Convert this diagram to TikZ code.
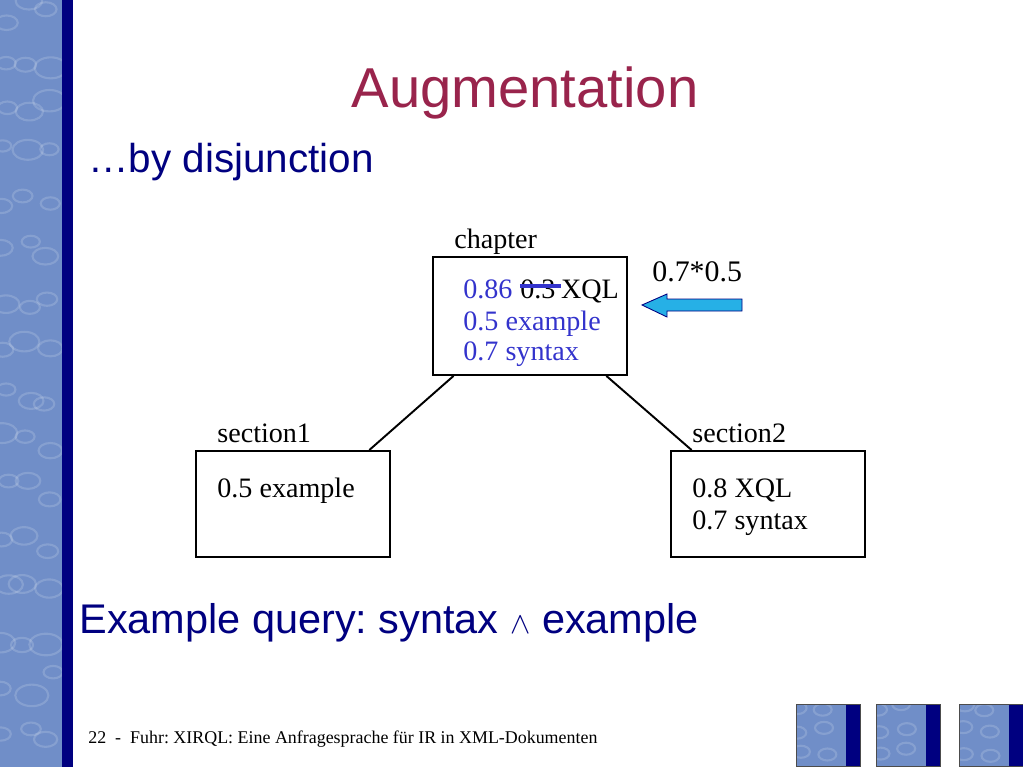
\documentclass[tikz,border=0pt]{standalone}
\usepackage{fontspec}
\setmainfont{Liberation Sans}
\newfontfamily\timesfont{Liberation Serif}
\usepackage{xcolor}
\usetikzlibrary{positioning, calc}
\definecolor{slidenavy}{RGB}{0,0,128}
\definecolor{titlered}{RGB}{153,36,76}
\definecolor{scoreblue}{RGB}{51,51,204}
\definecolor{waterblue}{RGB}{112,142,200}
\definecolor{arrowcyan}{RGB}{38,176,230}
\frenchspacing

\begin{document}
\begin{tikzpicture}[x=0.02cm, y=-0.02cm,
  elem/.style={rectangle, draw=black, line width=1.1pt, minimum width=3.88cm,
               inner sep=0pt, anchor=north west},
  txt/.style={font=\timesfont\fontsize{16}{19}\selectfont, inner sep=0pt,
              anchor=base west},
  score/.style={txt, text=scoreblue},
  edge/.style={black, line width=1.1pt},
  icon/.style={draw=black!70, line width=0.4pt},
  ripple/.style={white, opacity=0.16, line width=1.2pt}
]
\useasboundingbox (0,0) rectangle (1023,767);

% slide frame
\fill[waterblue] (0,0) rectangle (62,767);
\begin{scope}
  \clip (0,0) rectangle (62,767);
  \pgfmathsetseed{11}
  \foreach \k in {0,...,47}{
    \pgfmathsetmacro\rx{mod(\k,3)*22+rnd*10}
    \pgfmathsetmacro\ry{int(\k/3)*48+rnd*24}
    \pgfmathsetmacro\rr{8+rnd*9}
    \draw[ripple] (\rx,\ry) ellipse ({\rr} and {\rr*0.65});
  }
\end{scope}
\fill[slidenavy] (62,0) rectangle (73,767);
\foreach \ix in {796,876,959}{
  \fill[waterblue] (\ix,704) rectangle (\ix+50,766);
  \begin{scope}
    \clip (\ix,704) rectangle (\ix+50,766);
    \foreach \k in {0,...,5}{
      \pgfmathsetmacro\rx{\ix+mod(\k,2)*25+rnd*8}
      \pgfmathsetmacro\ry{704+int(\k/2)*22+rnd*8}
      \draw[ripple] (\rx,\ry) ellipse (9 and 6);
    }
  \end{scope}
  \fill[slidenavy] (\ix+50,704) rectangle (\ix+64,766);
  \draw[icon] (\ix,704) rectangle (\ix+64,766);
}

\node[anchor=base, text=titlered, font=\fontsize{32}{38}\selectfont, inner sep=0pt]
  (title) at (525,108) {Augmentation};
\node[anchor=base west, text=slidenavy, font=\fontsize{23}{28}\selectfont, inner sep=0pt]
  (sub) at (88,172) {…by disjunction};

% tree
\node[elem, minimum height=2.36cm] (chapter) at (432,256) {};
\node[elem, minimum height=2.12cm] (section1) at (195,450) {};
\node[elem, minimum height=2.12cm] (section2) at (670,450) {};

\draw[edge] ($(chapter.south west)!0.11!(chapter.south east)$)
  -- ($(section1.north west)!0.89!(section1.north east)$);
\draw[edge] ($(chapter.south west)!0.89!(chapter.south east)$)
  -- ($(section2.north west)!0.11!(section2.north east)$);

\node[txt] (lchapter) at (454,248) {chapter};
\node[txt] (lsection1) at (217,442) {section1};
\node[txt] (lsection2) at (692,442) {section2};

\node[score] (v86) at (463,298) {0.86};
\node[txt] (v03) at ($(v86.base east)+(7,0)$) {0.3};
\node[txt] (vxql) at ($(v03.base east)+(5,0)$) {XQL};
\draw[scoreblue, line width=1.8pt] ($(v03.base west)+(0,-12)$)
  -- ($(v03.base east)+(5,-12)$);
\node[score] (vex) at (463,330) {0.5 example};
\node[score] (vsyn) at (463,360) {0.7 syntax};

\node[txt] (s1ex) at (217,497) {0.5 example};
\node[txt] (s2xql) at (692,497) {0.8 XQL};
\node[txt] (s2syn) at (692,529) {0.7 syntax};

% propagated weight
\node[txt, font=\timesfont\fontsize{17}{20}\selectfont] (weight) at (652,281) {0.7*0.5};
\draw[draw=slidenavy, fill=arrowcyan, line width=0.5pt]
  (642,305) -- (667,294) -- (667,299) -- (742,299) -- (742,311)
  -- (667,311) -- (667,317) -- cycle;

\node[anchor=base west, text=slidenavy, font=\fontsize{23.6}{28}\selectfont, inner sep=0pt]
  (query) at (79,633) {Example query: syntax {\fontsize{19}{22}\selectfont$\wedge$} example};

\node[txt, font=\timesfont\fontsize{10.2}{12}\selectfont] (footer) at (88,743)
  {22\ \ -\ \ Fuhr: XIRQL: Eine Anfragesprache für IR in XML-Dokumenten};
\end{tikzpicture}
\end{document}
